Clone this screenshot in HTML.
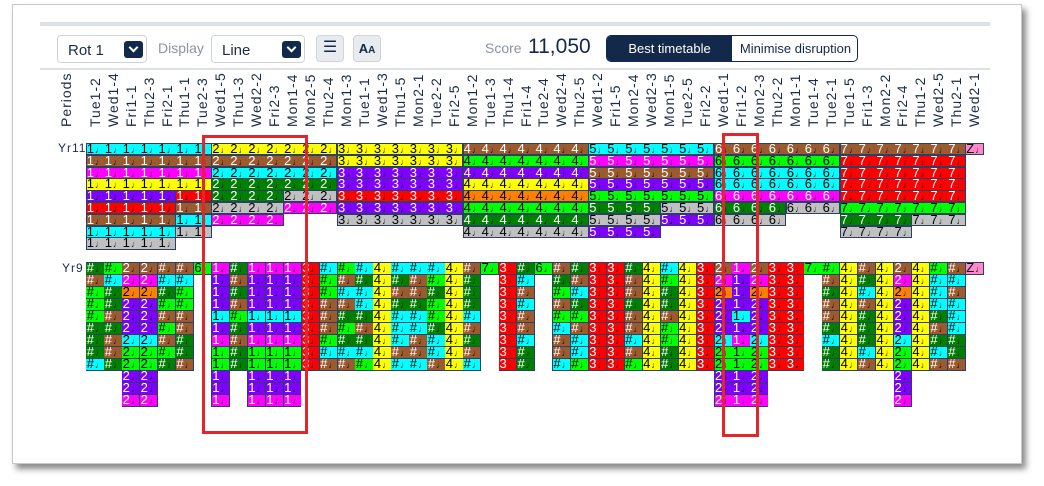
<!DOCTYPE html>
<html><head><meta charset="utf-8">
<style>
*{box-sizing:border-box;margin:0;padding:0}
body{width:1044px;height:486px;background:#fff;position:relative;overflow:hidden;font-family:"Liberation Sans",sans-serif;color:#1b2b48}
.card{position:absolute;left:12px;top:4px;width:1010px;height:460px;border:1px solid #c8c8c8;box-shadow:4px 5px 6px #8a8a8a;background:#fff}
.a{position:absolute}
.sel{position:absolute;border:1px solid #cfd4da;border-radius:4px;background:#fff;font-size:15px;color:#1b2b48;padding:6px 10px}
.chev{position:absolute;width:19px;height:17px;background:#13294b;border-radius:3px;top:5px}
.chev:after{content:"";position:absolute;left:6px;top:3px;width:5px;height:5px;border-right:2px solid #fff;border-bottom:2px solid #fff;transform:rotate(45deg)}
.lab{position:absolute;top:127px;transform-origin:0 0;transform:rotate(-90deg);font-size:14px;letter-spacing:1px;line-height:16px;white-space:nowrap;color:#1b2b48}
.seg{position:absolute;border:1px solid #2c3f66;overflow:hidden;white-space:nowrap}
.cell{position:absolute;font-size:13px;line-height:12px;padding-left:1px;overflow:hidden;white-space:nowrap}
.n{font-size:9px;margin-left:1px}
.rr{position:absolute;border:3px solid #e3262b}
</style></head><body>
<div class="card"></div>
<div class="a" style="left:40px;top:22px;width:950px;height:4px;background:#dde0e4"></div>
<div class="sel" style="left:57px;top:35px;width:90px;height:28px">Rot 1<span class="chev" style="left:66px"></span></div>
<div class="a" style="left:158px;top:40px;font-size:14px;color:#8a94a3">Display</div>
<div class="sel" style="left:211px;top:35px;width:94px;height:28px">Line<span class="chev" style="left:70px"></span></div>
<div class="a" style="left:316px;top:35px;width:28px;height:27px;background:#e8ebef;border:1px solid #cfd4da;border-radius:4px;font-size:16px;text-align:center;line-height:24px;color:#13294b">☰</div>
<div class="a" style="left:353px;top:35px;width:28px;height:27px;background:#e8ebef;border:1px solid #cfd4da;border-radius:4px;font-size:13px;text-align:center;line-height:25px;color:#13294b;font-weight:bold">A<span style="font-size:10px">A</span></div>
<div class="a" style="left:485px;top:40px;font-size:14px;color:#8a94a3">Score</div>
<div class="a" style="left:528px;top:35px;font-size:21px;color:#13294b">11,050</div>
<div class="a" style="left:606px;top:35px;width:252px;height:27px;border:1px solid #13294b;border-radius:5px;overflow:hidden;font-size:13px">
<div class="a" style="left:0;top:0;width:125px;height:27px;background:#13294b;color:#fff;text-align:center;line-height:25px">Best timetable</div>
<div class="a" style="left:125px;top:0;width:127px;height:27px;color:#13294b;text-align:center;line-height:25px">Minimise disruption</div></div>
<div class="a" style="left:40px;top:68px;width:950px;height:2px;background:#dde0e4"></div>
<div class="lab" style="left:58px">Periods</div>
<div id="labs">
<div class="lab">Tue1-2</div><div class="lab">Wed1-4</div><div class="lab">Fri1-1</div><div class="lab">Thu2-3</div><div class="lab">Fri2-1</div><div class="lab">Thu1-1</div><div class="lab">Tue2-3</div><div class="lab">Wed1-5</div><div class="lab">Thu1-3</div><div class="lab">Wed2-2</div><div class="lab">Fri2-3</div><div class="lab">Mon1-4</div><div class="lab">Mon2-5</div><div class="lab">Thu2-4</div><div class="lab">Mon1-3</div><div class="lab">Tue1-1</div><div class="lab">Wed1-3</div><div class="lab">Thu1-5</div><div class="lab">Mon2-1</div><div class="lab">Tue2-2</div><div class="lab">Fri2-5</div><div class="lab">Mon1-2</div><div class="lab">Tue1-3</div><div class="lab">Thu1-4</div><div class="lab">Fri1-4</div><div class="lab">Tue2-4</div><div class="lab">Wed2-4</div><div class="lab">Thu2-5</div><div class="lab">Wed1-2</div><div class="lab">Fri1-5</div><div class="lab">Mon2-4</div><div class="lab">Wed2-3</div><div class="lab">Mon1-5</div><div class="lab">Tue2-5</div><div class="lab">Fri2-2</div><div class="lab">Wed1-1</div><div class="lab">Fri1-2</div><div class="lab">Mon2-3</div><div class="lab">Thu2-2</div><div class="lab">Mon1-1</div><div class="lab">Tue1-4</div><div class="lab">Tue2-1</div><div class="lab">Tue1-5</div><div class="lab">Fri1-3</div><div class="lab">Mon2-2</div><div class="lab">Fri2-4</div><div class="lab">Thu1-2</div><div class="lab">Wed2-5</div><div class="lab">Thu2-1</div><div class="lab">Wed2-1</div>
</div>
<div class="a" style="left:58px;top:141px;font-size:12px;letter-spacing:1px">Yr11</div>
<div class="a" style="left:62px;top:261px;font-size:12px;letter-spacing:1px">Yr9</div>
<div id="g"></div>
<div class="rr" style="left:202px;top:135px;width:106px;height:299px"></div>
<div class="rr" style="left:722px;top:133px;width:37px;height:304px"></div>
<script>
var X0=85.7,W=17.95;
var labs=document.querySelectorAll('#labs .lab');
labs.forEach(function(l,i){l.style.left=(X0+i*W+1)+'px';});
var C={c:'#00ffff',b:'#9c5b2f',m:'#ff00ff',y:'#ffff00',p:'#8000ff',r:'#ff0000',d:'#008000',l:'#00ff00',g:'#c0c0c0',o:'#ff8000',k:'#ff88cc'};
var DK={b:1,m:1,p:1,r:1,d:1};
var g=document.getElementById('g'),h='';
function cellHTML(x,y,w,hh,col,txt){return '<div class="cell" style="left:'+x.toFixed(1)+'px;top:'+y.toFixed(1)+'px;width:'+w.toFixed(1)+'px;height:'+hh+'px;color:'+(DK[col]?'#fff':'#000')+'">'+txt+'<span class="n" style="color:#000">&#9833;</span></div>';}
var T11=143,H11=11.8;
var B=[
[0,'1',["ccccccc","bbbbbbb","mmmmmmm","yyyyyyy","ppppprr","rrrrrbb","bbbbbcc","cccccgg","ggggg.."]],
[7,'2',["yyyyyyy","bbbbbbb","ccccccc","ddddddd","ddddggg","ggggmmm","mmmm..."]],
[14,'3',["yyyyyyy","yyyyyyy","ppppppp","ppppppp","rrrrrrr","ppppppp","ggggggg"]],
[21,'4',["bbbbbbb","lllllll","ppppppp","yyyyyyy","ooooooo","lllllll","ddddddd","ggggggg"]],
[28,'5',["ccccccc","mmmmmmm","bbbbbbb","ppppppp","lllllll","ddddggg","ggggppp","pppp..."]],
[35,'6',["bbbbbbb","lllllll","ccccccc","ccccccc","mmmmmmm","ddddggg","gggg..."]],
[42,'7',["bbbbbbb","rrrrrrr","rrrrrrr","rrrrrrr","rrrrrrr","lllllll","ddddggg","gggg..."]],
[49,'Z',["k"]]];
B.forEach(function(bk){var s=bk[0],d=bk[1];bk[2].forEach(function(row,r){
 var i=0;while(i<row.length){var ch=row[i];if(ch=='.'){i++;continue;}var j=i;while(j<row.length&&row[j]==ch)j++;
  var x=X0+(s+i)*W,w=(j-i)*W,y=T11+r*H11;
  h+='<div class="seg" style="left:'+x.toFixed(1)+'px;top:'+y.toFixed(1)+'px;width:'+(w+0.5).toFixed(1)+'px;height:'+(H11+0.5).toFixed(1)+'px;background:'+C[ch]+'"></div>';
  for(var k=i;k<j;k++)h+=cellHTML(X0+(s+k)*W,y,W,12,ch,d);
  i=j;}
});});
var T9=262,H9=12;
var P2="bmopppcllppm",P1="mpppcpmllppm",R="rrrrrrrrr",Y="yyyyyyyyy";
var cols=[
['#',"dbllldddc"],['#',"lcddbdbbd"],['2',P2],['2',P2],['#',"bcdlblbld"],['#',"bcllbbddb"],['6',"l"],['1',P1],['#',"dbdbldbdd"],['1',P1],['1',P1],['1',P1],
['3',R],['#',"cllbbblcb"],['#',"lbcbdldcb"],['#',"cdccdbdcl"],['4',Y],['#',"cdbdcccbc"],['#',"cbbdccbbc"],['#',"cldlldccb"],['4',Y],['#',"bdddcbdbc"],['7',"l"],['3',R],
['#',"dcbcbbcdd"],['6',"l"],['#',"bdlblcbbc"],['#',"dbcdlbccl"],['3',R],['3',R],['#',"dbbdbbcbl"],['4',Y],['#',"clddblldd"],['4',Y],['3',R],['2',P2],['1',P1],['2',P2],
['3',R],['3',R],['7',"l"],['#',"lbdbbdcdd"],['4',Y],['#',"bdcbdddcb"],['4',Y],['2',P2],['4',Y],['#',"lcccdbdcb"],['#',"bcbcccddb"],['Z',"k"]];
cols.forEach(function(c,i){var x=X0+i*W;var s=c[1];
 h+='<div class="seg" style="left:'+x.toFixed(1)+'px;top:'+T9+'px;width:'+(W+0.5).toFixed(1)+'px;height:'+(s.length*H9+0.5)+'px;background:#2c3f66"></div>';
 for(var r=0;r<s.length;r++){var ch=s[r];
  h+='<div class="a" style="left:'+(x+0.5).toFixed(1)+'px;top:'+(T9+r*H9+0.5)+'px;width:'+(W-0.5).toFixed(1)+'px;height:'+(H9-0.5)+'px;background:'+C[ch]+'"></div>';
  h+=cellHTML(x,T9+r*H9,W,12,ch,c[0]);}
});
g.innerHTML=h;
</script>
</body></html>
